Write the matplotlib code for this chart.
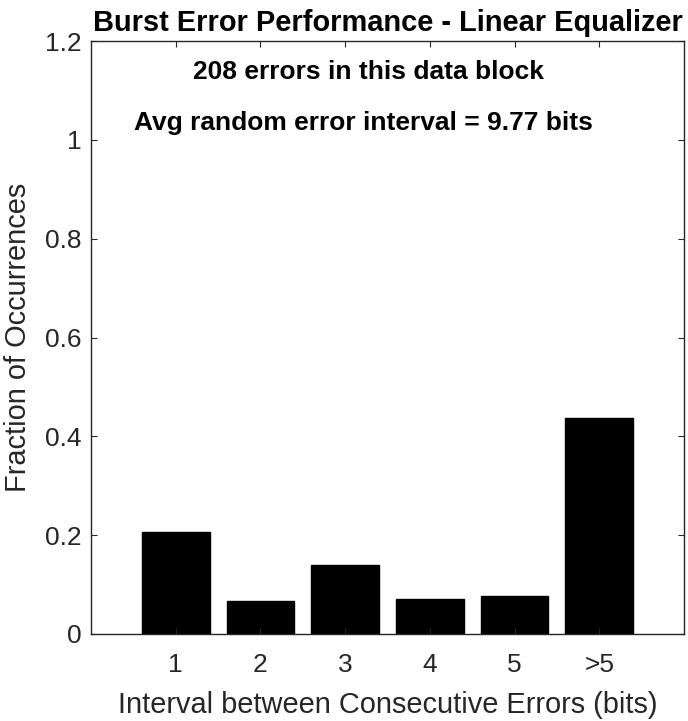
import matplotlib
matplotlib.use("Agg")
import matplotlib.pyplot as plt

# fractions of the 208 burst-error intervals
categories = ["1", "2", "3", "4", "5", ">5"]
fractions = [0.207, 0.067, 0.139, 0.071, 0.077, 0.437]
positions = [1, 2, 3, 4, 5, 6]

plt.rcParams["font.family"] = ["Liberation Sans", "DejaVu Sans"]
axcol = "#262626"

fig = plt.figure(figsize=(6.88, 7.21), dpi=100)
ax = fig.add_axes([0.1323, 0.1207, 0.8619, 0.8224])

ax.bar(positions, fractions, width=0.8, color="black", edgecolor="black")

ax.set_xlim(0, 7)
ax.set_ylim(0, 1.2)
ax.set_xticks(positions)
ax.set_xticklabels(categories)
ax.set_yticks([0, 0.2, 0.4, 0.6, 0.8, 1.0, 1.2])
ax.set_yticklabels(["0", "0.2", "0.4", "0.6", "0.8", "1", "1.2"])

for s in ax.spines.values():
    s.set_color(axcol)
    s.set_linewidth(1.0)
ax.tick_params(direction="in", top=True, right=True, length=4, width=0.8,
               color=axcol, labelcolor=axcol, labelsize=19, pad=7)
ax.tick_params(axis="x", pad=13.5)

ax.set_xlabel("Interval between Consecutive Errors (bits)", fontsize=20.9,
              color=axcol, labelpad=10.5)
ax.set_ylabel("Fraction of Occurrences", fontsize=20.9, color=axcol, labelpad=9)
ax.set_title("Burst Error Performance - Linear Equalizer", fontsize=20.9,
             fontweight="bold", pad=7)

ax.text(3.27, 1.137, "208 errors in this data block", ha="center", va="center",
        fontsize=19, fontweight="bold")
ax.text(3.22, 1.035, "Avg random error interval = 9.77 bits", ha="center",
        va="center", fontsize=19, fontweight="bold")

fig.savefig("out.png", dpi=100)
